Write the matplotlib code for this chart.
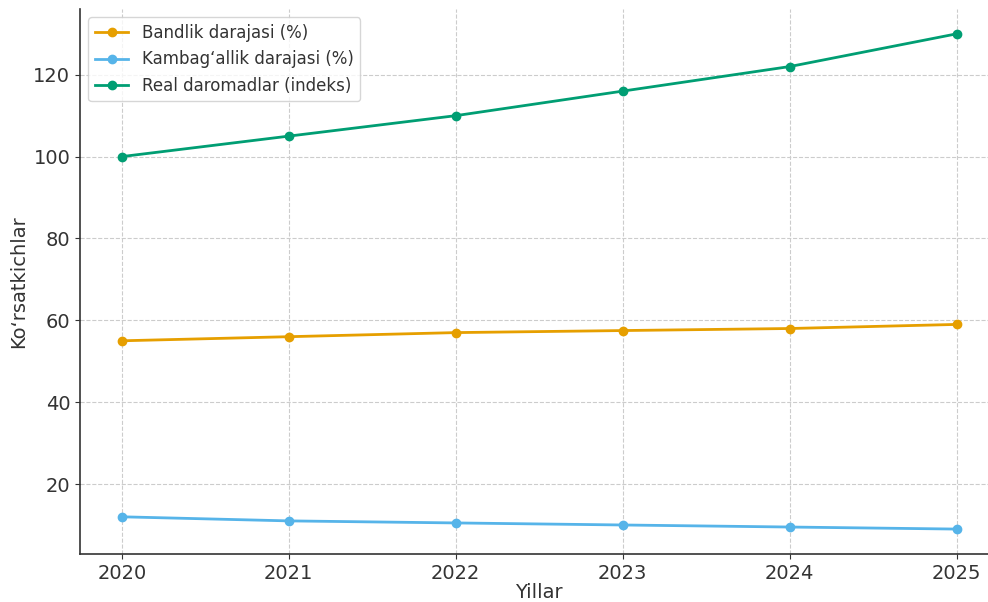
import matplotlib
matplotlib.use("Agg")
import matplotlib.pyplot as plt

years = [2020, 2021, 2022, 2023, 2024, 2025]
bandlik = [55, 56, 57, 57.5, 58, 59]
kambagallik = [12, 11, 10.5, 10, 9.5, 9]
daromad = [100, 105, 110, 116, 122, 130]

fig = plt.figure(figsize=(9.88, 6.02), dpi=100)
ax = fig.add_axes([0.081, 0.08, 0.9297, 0.905])

ax.plot(years, bandlik, marker="o", color="#E69F00", lw=2, ms=6, label="Bandlik darajasi (%)")
ax.plot(years, kambagallik, marker="o", color="#56B4E9", lw=2, ms=6, label="Kambag\u2018allik darajasi (%)")
ax.plot(years, daromad, marker="o", color="#009E73", lw=2, ms=6, label="Real daromadlar (indeks)")

ax.set_xlabel("Yillar", fontsize=14, color="#333333", labelpad=0)
ax.set_ylabel("Ko\u2018rsatkichlar", fontsize=14, color="#333333")
ax.tick_params(labelsize=14, colors="#333333")
ax.grid(True, linestyle="--", color="#cccccc", linewidth=0.8)
ax.spines["top"].set_visible(False)
ax.spines["right"].set_visible(False)
for s in ["left", "bottom"]:
    ax.spines[s].set_color("#333333")
    ax.spines[s].set_linewidth(1.2)

leg = ax.legend(loc="upper left", fontsize=12, bbox_to_anchor=(0.0, 1.0))
for t in leg.get_texts():
    t.set_color("#333333")

plt.savefig("out.png", dpi=100)
